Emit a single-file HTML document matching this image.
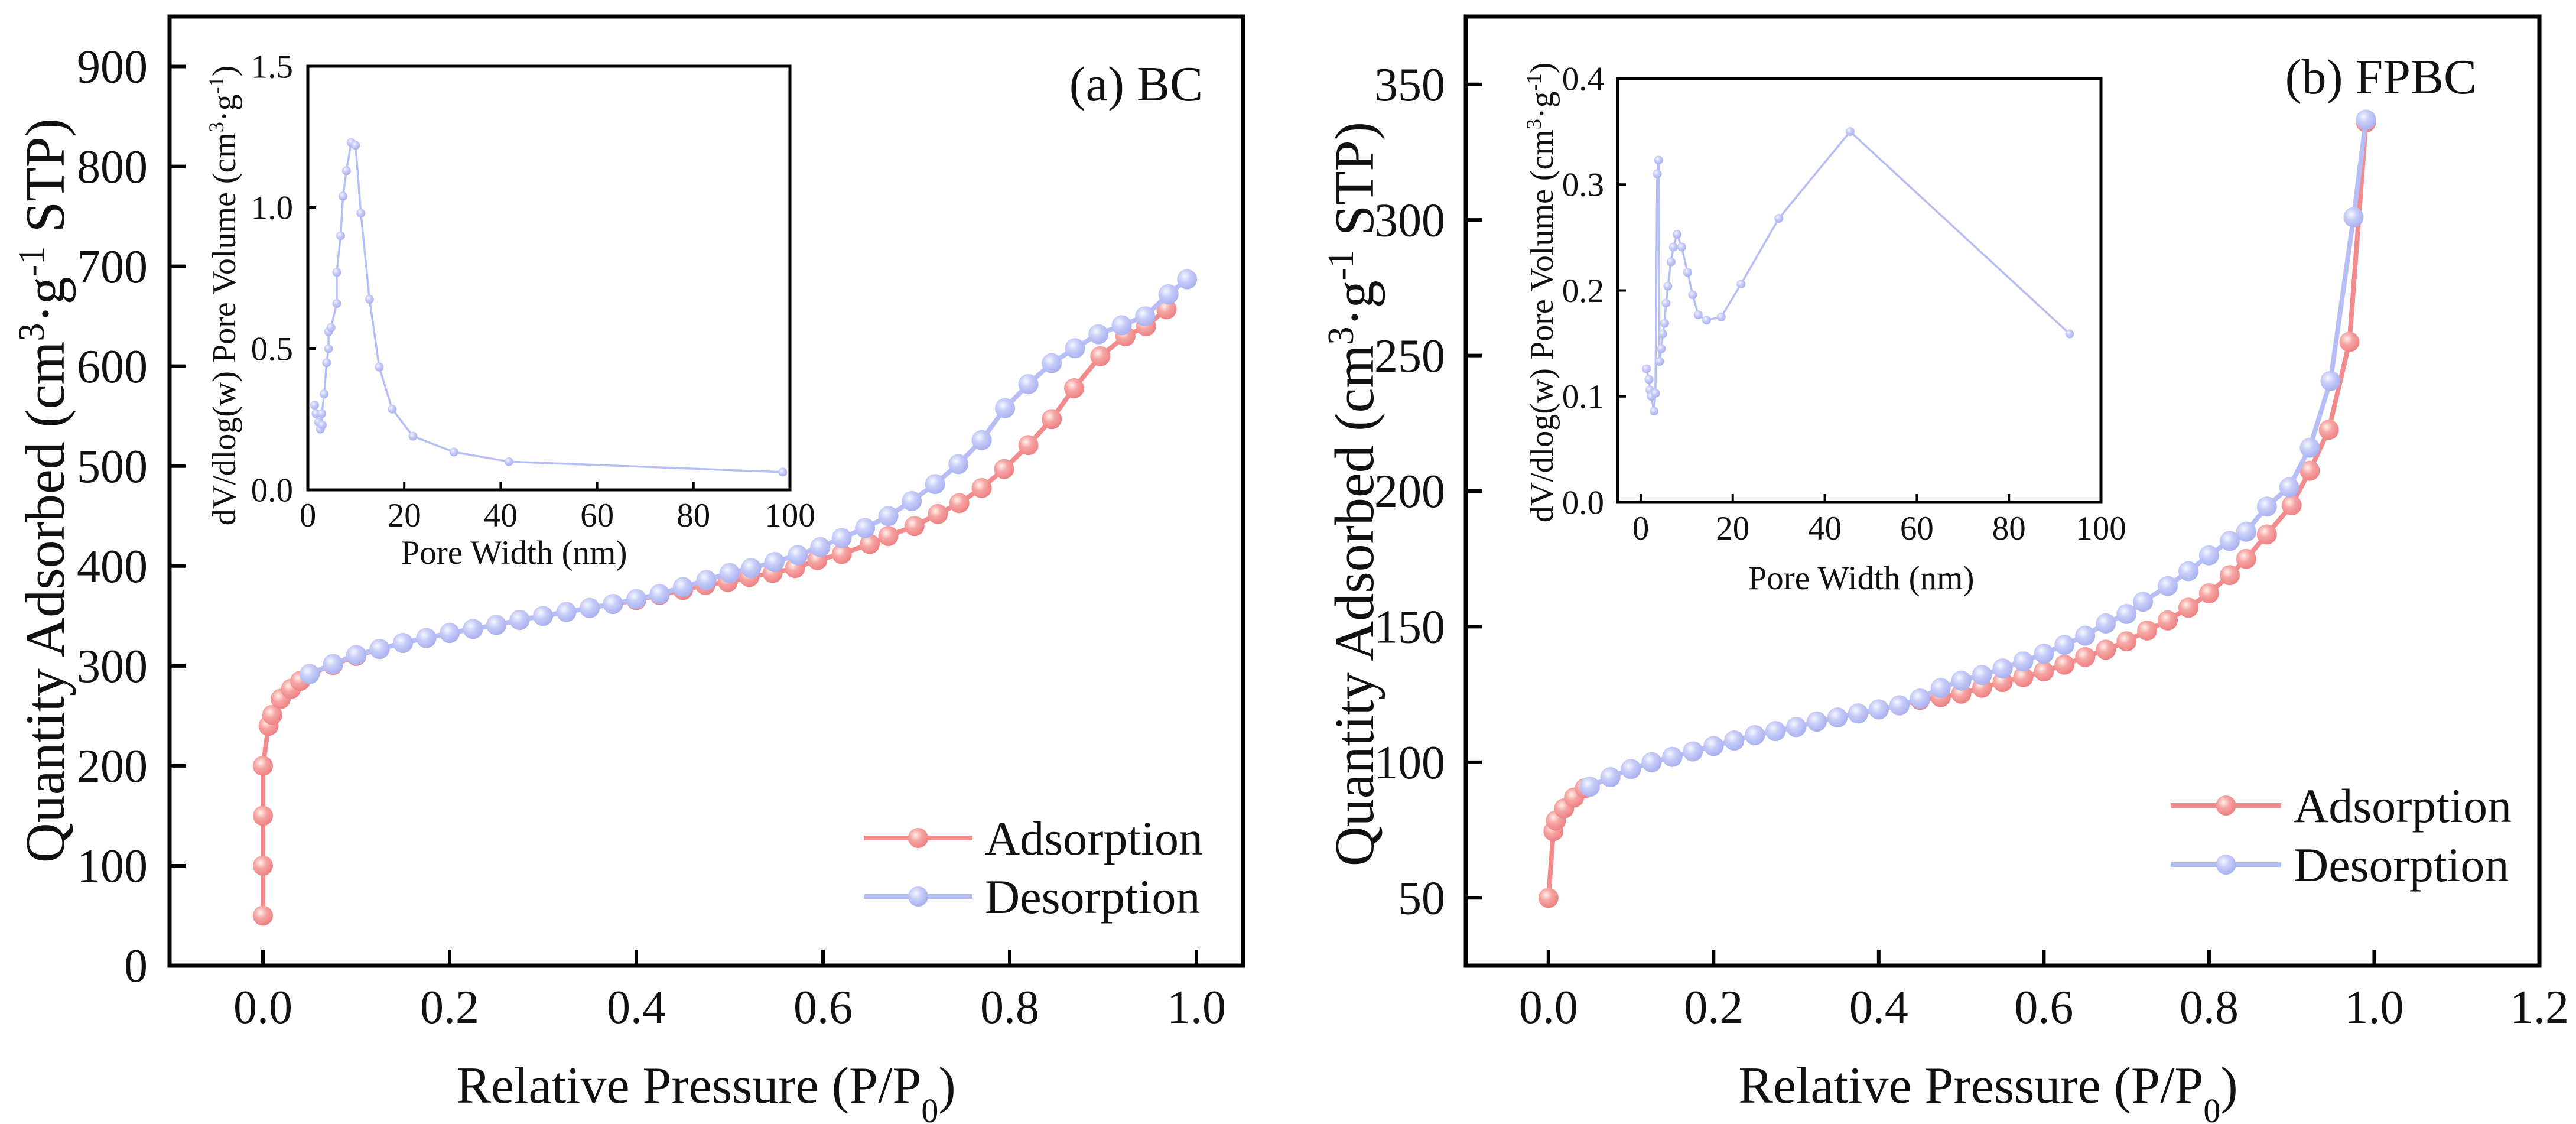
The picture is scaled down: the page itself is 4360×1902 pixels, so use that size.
<!DOCTYPE html>
<html><head><meta charset="utf-8">
<style>
html,body{margin:0;padding:0;background:#fff;}
svg{display:block;}
text{font-family:"Liberation Serif","Times New Roman",serif;fill:#111;}
</style></head>
<body>
<svg id="fig" width="4360" height="1902" viewBox="0 0 4360 1902" xmlns="http://www.w3.org/2000/svg">
<defs>
<radialGradient id="gRed" cx="0.38" cy="0.35" r="0.65">
<stop offset="0" stop-color="#fff1ea"/><stop offset="0.45" stop-color="#f5a5a3"/><stop offset="1" stop-color="#ee8284"/>
</radialGradient>
<radialGradient id="gBlue" cx="0.38" cy="0.35" r="0.65">
<stop offset="0" stop-color="#f6f7ff"/><stop offset="0.45" stop-color="#c7cdf8"/><stop offset="1" stop-color="#aab2f0"/>
</radialGradient>
</defs>
<g id="root"></g>
</svg>
<script>
// ---------- Panel (a) BC data ----------
const bcAdsX = [0,0,0,0,0.006,0.01,0.019,0.03,0.04,0.05,0.075,0.1,0.125,0.15,0.175,0.2,0.225,0.25,0.275,0.3,0.325,0.35,0.375,0.4,0.425,0.45,0.474,0.498,0.521,0.546,0.57,0.594,0.62,0.65,0.67,0.698,0.723,0.746,0.77,0.794,0.82,0.845,0.869,0.897,0.924,0.946,0.968];
const bcAdsY = [50,100,150,200,240,251,267,277,285,292,301,310,317,323,328,333,337,341,346,350,354,358,362,366,371,376,381,384,389,393,398,406,412,422,430,440,452,463,478,497,521,547,578,610,630,640,657];
const bcDesX = [0.99,0.97,0.945,0.92,0.895,0.87,0.845,0.82,0.795,0.77,0.745,0.72,0.695,0.67,0.645,0.62,0.597,0.573,0.548,0.523,0.5,0.475,0.45,0.425,0.4,0.375,0.35,0.325,0.3,0.275,0.25,0.225,0.2,0.175,0.15,0.125,0.1,0.075,0.05];
const bcDesY = [687,672,650,641,632,618,603,582,558,526,502,482,465,450,438,428,419,411,404,398,393,386,379,372,367,362,358,354,350,346,341,337,333,328,323,317,311,302,292];
const bcPoreX = [1.4,1.7,2.2,2.6,3.0,2.9,3.4,3.9,4.3,4.3,4.8,6.0,6.0,6.8,7.3,8.0,9.0,9.9,11.0,12.8,14.8,17.5,21.8,30.3,41.7,98.5];
const bcPoreY = [0.30,0.27,0.24,0.215,0.23,0.27,0.34,0.45,0.50,0.56,0.575,0.66,0.77,0.90,1.04,1.13,1.23,1.22,0.98,0.675,0.435,0.286,0.19,0.134,0.10,0.063];
const bcXTicks = [0.0,0.2,0.4,0.6,0.8,1.0];
const bcYTicks = [0,100,200,300,400,500,600,700,800,900];
const bcInXTicks = [0,20,40,60,80,100];
const bcInYTicks = [0.0,0.5,1.0,1.5];

// ---------- Panel (b) FPBC data ----------
const fpAdsX = [0,0.006,0.009,0.019,0.031,0.044,0.05,0.075,0.1,0.125,0.15,0.175,0.2,0.225,0.25,0.275,0.3,0.325,0.35,0.375,0.4,0.425,0.45,0.475,0.5,0.525,0.55,0.575,0.6,0.625,0.65,0.675,0.7,0.725,0.75,0.775,0.8,0.825,0.845,0.87,0.9,0.922,0.945,0.97,0.99];
const fpAdsY = [50,74.6,78.5,83,87,90.4,91,94.5,97.5,100,102,104,106,108,110,111.5,113,115,116.5,118,119.5,121,123,124,125.3,127.5,129.6,131.4,133.5,136,138.8,141.5,144.6,148.6,152.3,157,162.3,169,175,184,194.8,207.5,222.6,255,336];
const fpDesX = [0.99,0.975,0.947,0.922,0.897,0.87,0.845,0.825,0.8,0.775,0.75,0.72,0.7,0.675,0.65,0.625,0.6,0.575,0.55,0.525,0.5,0.475,0.45,0.425,0.4,0.375,0.35,0.325,0.3,0.275,0.25,0.225,0.2,0.175,0.15,0.125,0.1,0.075,0.05];
const fpDesY = [337,301,240.6,216,201.4,194.3,185,181.6,176.3,170.5,165,159.2,154.7,151.2,146.7,143.3,140.1,137.2,134.6,132.2,130.1,127.4,123.5,121,119.5,118,116.5,115,113,111.5,110,108,106,104,102,100,97.5,94.5,91];
const fpPoreX = [1.25,1.8,2.0,2.3,2.9,3.2,3.6,3.9,4.1,4.5,4.8,5.2,5.5,5.9,6.6,7.1,7.9,8.9,10.2,11.3,12.5,14.3,17.5,21.8,30,45.5,93.2];
const fpPoreY = [0.126,0.116,0.106,0.10,0.086,0.103,0.31,0.323,0.133,0.145,0.159,0.169,0.188,0.204,0.227,0.241,0.253,0.241,0.217,0.196,0.177,0.172,0.175,0.206,0.268,0.35,0.159];
const fpXTicks = [0.0,0.2,0.4,0.6,0.8,1.0,1.2];
const fpYTicks = [50,100,150,200,250,300,350];
const fpInXTicks = [0,20,40,60,80,100];
const fpInYTicks = [0.0,0.1,0.2,0.3,0.4];

const NS = 'http://www.w3.org/2000/svg';
const root = document.getElementById('root');
function mk(tag, attrs, parent){
  const e = document.createElementNS(NS, tag);
  for (const k in attrs) e.setAttribute(k, attrs[k]);
  (parent||root).appendChild(e);
  return e;
}
function scale(d0,d1,r0,r1){ return v => r0 + (v-d0)/(d1-d0)*(r1-r0); }
function fmt(v, dec){ return v.toFixed(dec); }

function drawSeries(g, xs, ys, sx, sy, color, grad, lw, r, name){
  const pts = xs.map((x,i)=>sx(x).toFixed(1)+','+sy(ys[i]).toFixed(1)).join(' ');
  const pl = mk('polyline',{points:pts,fill:'none',stroke:color,'stroke-width':lw,'stroke-linejoin':'round'},g);
  
  
  xs.forEach((x,i)=>{
    const c = mk('circle',{cx:sx(x).toFixed(1),cy:sy(ys[i]).toFixed(1),r:r,fill:'url(#'+grad+')'},g);
    
    
  });
}

function axesBox(g, L,T,R,B, lw, name){
  const rc = mk('rect',{x:L,y:T,width:R-L,height:B-T,fill:'none',stroke:'#000','stroke-width':lw},g);
  
  
}

function xTicks(g, ticks, sx, B, len, lw, fs, ly, dec, name){
  ticks.forEach(t=>{
    const x = sx(t);
    const l = mk('line',{x1:x,y1:B,x2:x,y2:B-len,stroke:'#000','stroke-width':lw},g);
    
    
    const tx = mk('text',{x:x,y:ly,'font-size':fs,'text-anchor':'middle'},g);
    tx.textContent = fmt(t,dec);
    
    
  });
}
function yTicks(g, ticks, sy, L, len, lw, fs, lx, dec, name){
  ticks.forEach(t=>{
    const y = sy(t);
    const l = mk('line',{x1:L,y1:y,x2:L+len,y2:y,stroke:'#000','stroke-width':lw},g);
    
    
    const tx = mk('text',{x:lx,y:y+fs*0.34,'font-size':fs,'text-anchor':'end'},g);
    tx.textContent = fmt(t,dec);
    
    
  });
}

function legend(g, x0,x1,tx,y1,y2){
  [['Adsorption','#f28b8b','gRed',y1],['Desorption','#b7bef5','gBlue',y2]].forEach(it=>{
    const lg = mk('g',{},g);
    
    
    mk('line',{x1:x0,y1:it[3],x2:x1,y2:it[3],stroke:it[1],'stroke-width':8},lg);
    mk('circle',{cx:(x0+x1)/2,cy:it[3],r:17,fill:'url(#'+it[2]+')'},lg);
    const t = mk('text',{x:tx,y:it[3]+28,'font-size':82},lg);
    t.textContent = it[0];
  });
}

function yTitleMain(g, x, y, name){
  const t = mk('text',{x:0,y:0,'font-size':94,'text-anchor':'middle',transform:'translate('+x+','+y+') rotate(-90)'},g);
  
  
  t.innerHTML = 'Quantity Adsorbed (cm<tspan baseline-shift="super" font-size="62">3</tspan>·g<tspan baseline-shift="super" font-size="62">-1</tspan> STP)';
}
function xTitleMain(g, x, y, name){
  const t = mk('text',{x:x,y:y,'font-size':88,'text-anchor':'middle'},g);
  
  
  t.innerHTML = 'Relative Pressure (P/P<tspan baseline-shift="sub" font-size="58">0</tspan>)';
}
function insetTitles(g, yx, yy, xx, xy, name){
  const t = mk('text',{x:0,y:0,'font-size':56,'text-anchor':'middle',transform:'translate('+yx+','+yy+') rotate(-90)'},g);
  
  
  t.innerHTML = 'dV/dlog(w) Pore Volume (cm<tspan baseline-shift="super" font-size="36">3</tspan>·g<tspan baseline-shift="super" font-size="36">-1</tspan>)';
  const t2 = mk('text',{x:xx,y:xy,'font-size':57,'text-anchor':'middle'},g);
  
  
  t2.textContent = 'Pore Width (nm)';
}

// ================= Panel (a) =================
(function(){
  const g = mk('g',{});
  
  
  const L=287,T=28,R=2104,B=1634;
  const sx = scale(-0.1,1.05,L,R), sy = scale(0,950,B,T);
  drawSeries(g, bcAdsX, bcAdsY, sx, sy, '#f28b8b','gRed',8,17,'bc-adsorption');
  drawSeries(g, bcDesX, bcDesY, sx, sy, '#b7bef5','gBlue',8,17,'bc-desorption');
  axesBox(g,L,T,R,B,7,'bc-main');
  xTicks(g, bcXTicks, sx, B, 27, 6, 80, 1731, 1, 'bc');
  yTicks(g, bcYTicks, sy, L, 27, 6, 80, 250, 0, 'bc');
  xTitleMain(g, 1195, 1866, 'bc-x-axis-title');
  yTitleMain(g, 108, 830, 'bc-y-axis-title');
  const lab = mk('text',{x:2036,y:170,'font-size':84,'text-anchor':'end'},g);
  
  
  lab.textContent = '(a) BC';
  legend(g,1462,1646,1667,1418,1517);
  // inset
  const iL=521,iT=112,iR=1337,iB=829;
  const ig = mk('g',{},g);
  
  
  mk('rect',{x:iL,y:iT,width:iR-iL,height:iB-iT,fill:'#fff'},ig);
  const ix = scale(0,100,iL,iR), iy = scale(0,1.5,iB,iT);
  drawSeries(ig, bcPoreX, bcPoreY, ix, iy, '#b7bef5','gBlue',3.5,7.5,'bc-pore');
  axesBox(ig,iL,iT,iR,iB,5,'bc-inset');
  xTicks(ig, bcInXTicks, ix, iB, 14, 4, 57, 891, 0, 'bc-inset');
  yTicks(ig, bcInYTicks, iy, iL, 14, 4, 57, 496, 1, 'bc-inset');
  insetTitles(ig, 398, 500, 870, 954, 'bc-inset');
})();

// ================= Panel (b) =================
(function(){
  const g = mk('g',{});
  
  
  const L=2481,T=28,R=4298,B=1634;
  const sx = scale(-0.1,1.2,L,R), sy = scale(25,375,B,T);
  drawSeries(g, fpAdsX, fpAdsY, sx, sy, '#f28b8b','gRed',8,17,'fpbc-adsorption');
  drawSeries(g, fpDesX, fpDesY, sx, sy, '#b7bef5','gBlue',8,17,'fpbc-desorption');
  axesBox(g,L,T,R,B,7,'fpbc-main');
  xTicks(g, fpXTicks, sx, B, 27, 6, 80, 1731, 1, 'fpbc');
  yTicks(g, fpYTicks, sy, L, 27, 6, 80, 2446, 0, 'fpbc');
  xTitleMain(g, 3365, 1866, 'fpbc-x-axis-title');
  yTitleMain(g, 2324, 836, 'fpbc-y-axis-title');
  const lab = mk('text',{x:4192,y:158,'font-size':84,'text-anchor':'end'},g);
  
  
  lab.textContent = '(b) FPBC';
  legend(g,3674,3861,3882,1363,1463);
  const iL=2738,iT=133,iR=3556,iB=850;
  const ig = mk('g',{},g);
  
  
  mk('rect',{x:iL,y:iT,width:iR-iL,height:iB-iT,fill:'#fff'},ig);
  const ix = scale(-5,100,iL,iR), iy = scale(0,0.4,iB,iT);
  drawSeries(ig, fpPoreX, fpPoreY, ix, iy, '#b7bef5','gBlue',3.5,7.5,'fpbc-pore');
  axesBox(ig,iL,iT,iR,iB,5,'fpbc-inset');
  xTicks(ig, fpInXTicks, ix, iB, 14, 4, 57, 913, 0, 'fpbc-inset');
  yTicks(ig, fpInYTicks, iy, iL, 14, 4, 57, 2715, 1, 'fpbc-inset');
  insetTitles(ig, 2628, 495, 3150, 997, 'fpbc-inset');
})();
</script>
</body></html>
